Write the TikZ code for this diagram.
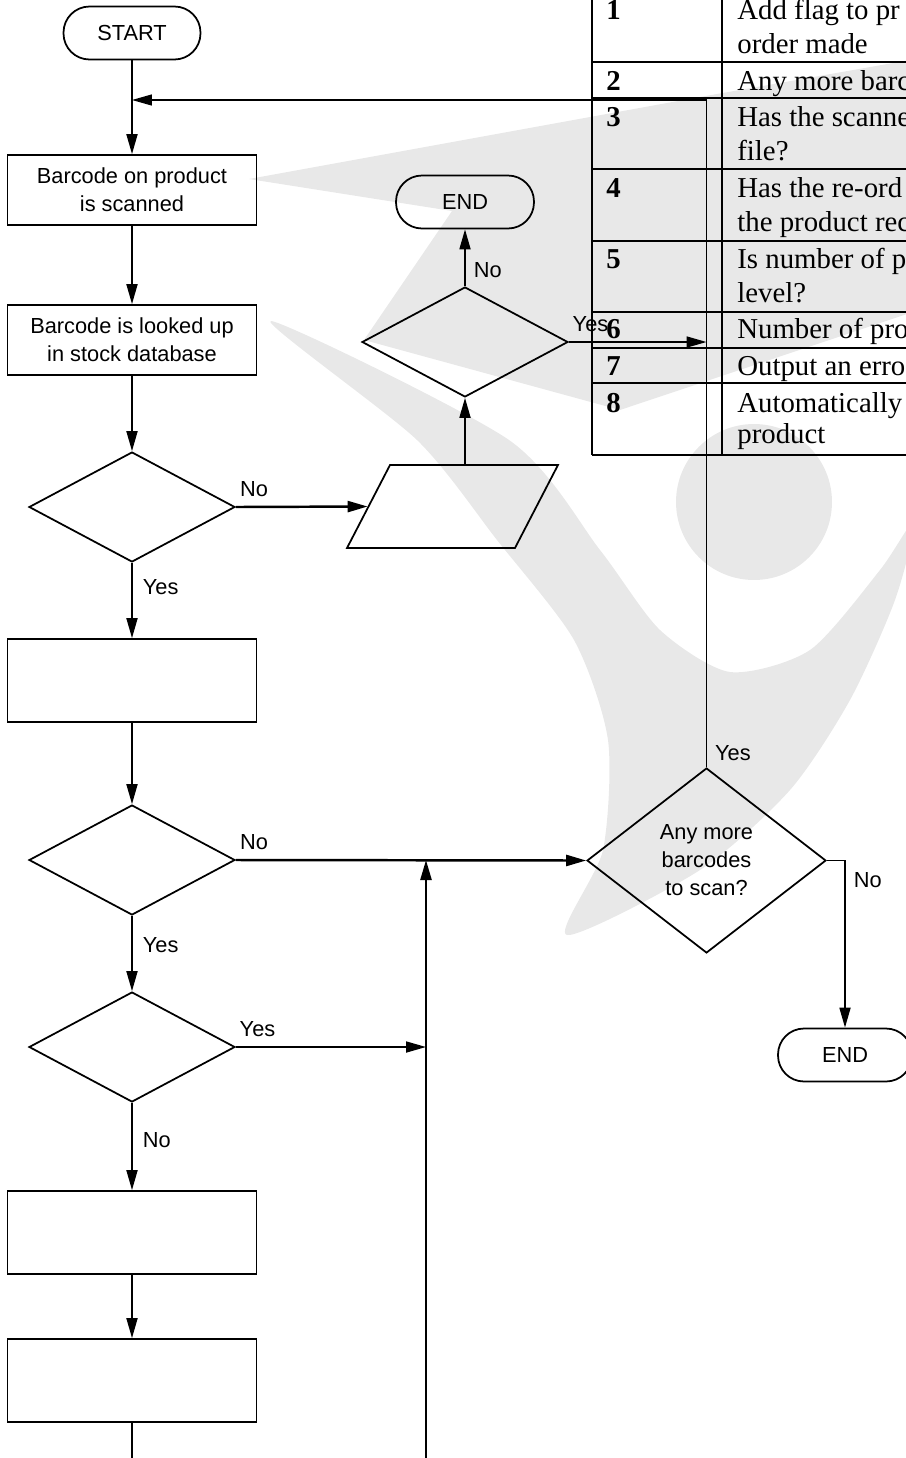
\documentclass[tikz,border=0pt]{standalone}
\usepackage{fontspec}
\setmainfont{Liberation Sans}
\newfontfamily\tabfont{Liberation Serif}
\usetikzlibrary{arrows.meta,shapes.geometric}
\definecolor{markgrey}{HTML}{E8E8E8}

\begin{document}
\begin{tikzpicture}[x=0.02cm, y=-0.02cm,
  font=\fontsize{12.4}{15.9}\selectfont,
  terminal/.style={draw, line width=1pt, rounded corners=0.52cm, minimum width=2.74cm, minimum height=1.06cm},
  procbox/.style={draw, line width=1pt, minimum width=4.98cm, minimum height=1.4cm, align=center},
  decision/.style={draw, diamond, line width=1pt, inner sep=0pt, minimum width=4.12cm, minimum height=2.2cm, align=center},
  flow/.style={line width=1pt, -{Triangle[length=0.4cm, width=0.22cm]}},
  lbl/.style={inner sep=0.06cm},
  tabtxt/.style={anchor=base west, inner sep=0pt, font=\tabfont\fontsize{16.4}{19.3}\selectfont},
  tabnum/.style={tabtxt, font=\tabfont\bfseries\fontsize{16.4}{19.3}\selectfont},
  tabline/.style={line width=1.1pt}]
\useasboundingbox (0,0) rectangle (906,1458);

% watermark
\fill[markgrey] (249,179) -- (700,97) -- (910,60) -- (910,313) -- (620,410) -- (364,340) -- (452,211) -- cycle;
\fill[markgrey] (754,502) circle[radius=1.56cm];
\fill[markgrey] plot[smooth cycle, tension=0.45] coordinates {(271,321) (417,440) (497,540) (574,640) (608,740) (603,850) (567,935) (700,870) (790,790) (850,700) (895,600) (915,520) (880,570) (810,650) (730,672) (660,630) (600,550) (509,440)};

% left column
\node[terminal] (start) at (132,33) {START};
\node[procbox] (scan) at (132,190) {Barcode on product\\is scanned};
\node[procbox] (lookup) at (132,340) {Barcode is looked up\\in stock database};
\node[decision] (d1) at (132,507) {};
\node[procbox, minimum height=1.66cm] (b3) at (132,680.5) {};
\node[decision] (d3) at (132,860) {};
\node[decision] (d4) at (132,1047) {};
\node[procbox, minimum height=1.66cm] (b4) at (132,1232.5) {};
\node[procbox, minimum height=1.66cm] (b5) at (132,1380.5) {};

% middle and right
\node[draw, line width=1pt, minimum width=3.36cm, minimum height=1.66cm, inner sep=0pt, xslant=0.518] (io) at (452.5,506.5) {};
\node[decision] (ud) at (465,342) {};
\node[terminal, minimum width=2.76cm] (endt) at (465,202) {END};
\node[decision, minimum width=4.78cm, minimum height=3.7cm] (dm) at (706.5,860.5) {Any more\\barcodes\\to scan?};
\node[terminal, minimum width=2.68cm] (endb) at (845,1055) {END};
\coordinate (upc) at (426,1458);
\coordinate (loopy) at (706,100);

% connectors
\draw[flow] (start) -- (scan);
\draw[flow] (scan) -- (lookup);
\draw[flow] (lookup) -- (d1);
\draw[flow, line width=1.4pt] (d1.east) -- node[lbl, pos=0, anchor=south west, yshift=0.12cm] (no1) {No} (io.west);
\draw[flow] (d1) -- node[lbl, pos=0.32, anchor=west, xshift=0.14cm] (yes1) {Yes} (b3);
\draw[flow] (b3) -- (d3);
\draw[flow, line width=1.4pt] (d3.east) -- node[lbl, pos=0, anchor=south west, yshift=0.12cm] (no2) {No} (dm.west);
\draw[flow] (d3) -- node[lbl, pos=0.39, anchor=west, xshift=0.14cm] (yes2) {Yes} (d4);
\draw[flow] (d4.east) -- node[lbl, pos=0, anchor=south west, yshift=0.12cm] (yes3) {Yes} (d4.east -| upc);
\draw[flow] (d4) -- node[lbl, pos=0.43, anchor=west, xshift=0.14cm] (no3) {No} (b4);
\draw[flow] (b4) -- (b5);
\draw[line width=1pt] (b5) -- (b5.south |- upc);
\draw[flow, line width=1.4pt] (upc) -- (upc |- d3.east);
\draw[flow] (io.north -| ud.south) -- (ud);
\draw[flow] (ud) -- node[lbl, pos=0.29, anchor=west, xshift=0.1cm] (no4) {No} (endt);
\draw[flow] (ud.east) -- node[lbl, pos=0, anchor=south west, yshift=0.12cm] (yes4) {Yes} (ud.east -| dm.north);
\draw[flow, line width=0.75pt] (dm.north) |- node[lbl, pos=0, anchor=south west, xshift=0.1cm, yshift=0.06cm] (yes5) {Yes} (start.south |- loopy);
\draw[flow] (dm.east) -| node[lbl, pos=0.56, anchor=west, xshift=0.1cm] (no5) {No} (endb);

% table
\draw[tabline] (592,-10) -- (592,455) (722,-10) -- (722,455);
\draw[tabline] (592,62) -- (910,62) (592,98) -- (910,98) (592,169) -- (910,169) (592,241) -- (910,241);
\draw[tabline] (592,312) -- (910,312) (592,348) -- (910,348) (592,383) -- (910,383) (592,455) -- (910,455);
\node[tabnum] (n1) at (606,19) {1};
\node[tabtxt] (r1a) at (737,19) {Add flag to pr};
\node[tabtxt] (r1b) at (737,53) {order made};
\node[tabnum] (n2) at (606,90) {2};
\node[tabtxt] (r2a) at (737,90) {Any more barc};
\node[tabnum] (n3) at (606,126) {3};
\node[tabtxt] (r3a) at (737,126) {Has the scanne};
\node[tabtxt] (r3b) at (737,160) {file?};
\node[tabnum] (n4) at (606,197) {4};
\node[tabtxt] (r4a) at (737,197) {Has the re-ord};
\node[tabtxt] (r4b) at (737,231) {the product rec};
\node[tabnum] (n5) at (606,268) {5};
\node[tabtxt] (r5a) at (737,268) {Is number of p};
\node[tabtxt] (r5b) at (737,302) {level?};
\node[tabnum] (n6) at (606,338) {6};
\node[tabtxt] (r6a) at (737,338) {Number of pro};
\node[tabnum] (n7) at (606,375) {7};
\node[tabtxt] (r7a) at (737,375) {Output an erro};
\node[tabnum] (n8) at (606,412) {8};
\node[tabtxt] (r8a) at (737,412) {Automatically};
\node[tabtxt] (r8b) at (737,443) {product};
\end{tikzpicture}
\end{document}
